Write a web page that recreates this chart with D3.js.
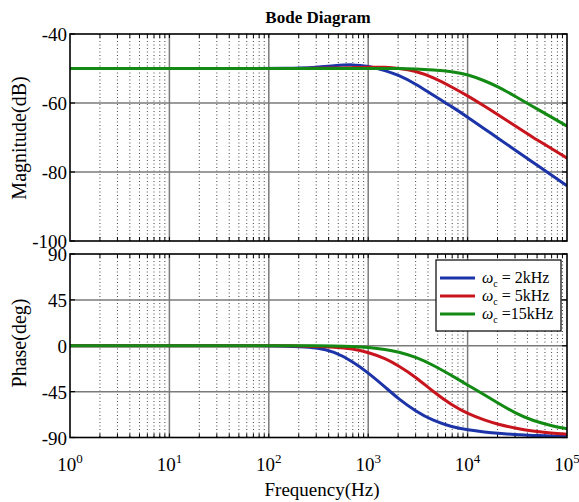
<!DOCTYPE html>
<html><head><meta charset="utf-8">
<script src="https://cdn.jsdelivr.net/npm/d3@7"></script>
<style>body{margin:0;background:#fff}svg{display:block}</style>
</head><body>
<script>
const freqs = [1, 10, 100, 150, 200, 300, 450, 700, 1000, 1500, 2000, 3000, 4500, 7000, 10000, 15000, 20000, 30000, 45000, 70000, 100000];
const magBlue  = [-50, -50, -50, -49.95, -49.9, -49.7, -49.2, -48.8, -49.3, -50.6, -51.9, -54.4, -57.8, -61.1, -64.1, -67.6, -70.1, -73.6, -77.1, -80.9, -84.0];
const magRed   = [-50, -50, -50, -50, -50, -49.95, -49.9, -49.75, -49.6, -49.6, -49.9, -50.7, -52.6, -55.4, -57.9, -61.0, -63.3, -66.6, -69.9, -73.2, -76.0];
const magGreen = [-50, -50, -50, -50, -50, -50, -50, -50, -50, -50, -50, -50.1, -50.4, -50.9, -51.7, -53.6, -55.2, -58.0, -61.0, -64.1, -66.7];
const phBlue   = [0, 0, 0, -0.5, -1, -1.8, -5.5, -15.5, -26.5, -41, -51.8, -64.2, -73.6, -79.8, -82.6, -84.7, -85.9, -87.1, -88.0, -88.5, -88.8];
const phRed    = [0, 0, 0, 0, -0.2, -0.6, -1.2, -2.8, -6.5, -12.5, -19.5, -30.5, -45, -58.5, -66.5, -73.3, -76.9, -80.8, -83.8, -85.8, -86.8];
const phGreen  = [0, 0, 0, 0, 0, 0, -0.2, -0.6, -1.5, -3.5, -6, -11, -18.9, -29.5, -38.5, -48.5, -56, -66, -73.5, -78.5, -81.5];
const seriesNames = ["2kHz", "5kHz", "15kHz"];
const colors = ["#1c34a8", "#c8141c", "#128a14"];
const magTicks = [-40, -60, -80, -100];
const phTicks = [90, 45, 0, -45, -90];
const xTickExps = [0, 1, 2, 3, 4, 5];

const W = 579, H = 502;
const svg = d3.select("body").append("svg").attr("width", W).attr("height", H);
const serif = "'Liberation Serif','Times New Roman',serif";

const x = d3.scaleLog().domain([1, 1e5]).range([70, 567]);
const yMag = d3.scaleLinear().domain([-100, -40]).range([241, 34]);
const yPh = d3.scaleLinear().domain([-90, 90]).range([437.5, 254]);

const minorX = [];
for (let e = 0; e < 5; e++) for (let k = 2; k <= 9; k++) minorX.push(k * Math.pow(10, e));
const majorX = [10, 100, 1000, 10000];

function panel(y, yticks, gridY, id, data) {
  const [y0, y1] = y.range();
  const g = svg.append("g");
  svg.append("clipPath").attr("id", id).append("rect")
    .attr("x", 70).attr("y", y1).attr("width", 497).attr("height", y0 - y1);
  g.selectAll(".mn").data(minorX).join("line")
    .attr("x1", d => x(d)).attr("x2", d => x(d)).attr("y1", y1).attr("y2", y0)
    .attr("stroke", "#444").attr("stroke-width", 1).attr("stroke-dasharray", "1,2.5");
  g.selectAll(".mj").data(majorX).join("line")
    .attr("x1", d => x(d)).attr("x2", d => x(d)).attr("y1", y1).attr("y2", y0)
    .attr("stroke", "#7a7a7a").attr("stroke-width", 1.5);
  g.selectAll(".hy").data(gridY).join("line")
    .attr("x1", 70).attr("x2", 567).attr("y1", d => y(d)).attr("y2", d => y(d))
    .attr("stroke", "#7a7a7a").attr("stroke-width", 1.5);
  const allX = minorX.concat(majorX);
  g.selectAll(".tb").data(allX).join("line")
    .attr("x1", d => x(d)).attr("x2", d => x(d)).attr("y1", y0).attr("y2", y0 - 4)
    .attr("stroke", "#000").attr("stroke-width", 1);
  g.selectAll(".tt").data(allX).join("line")
    .attr("x1", d => x(d)).attr("x2", d => x(d)).attr("y1", y1).attr("y2", y1 + 4)
    .attr("stroke", "#000").attr("stroke-width", 1);
  g.selectAll(".tl").data(yticks).join("line")
    .attr("x1", 70).attr("x2", 75).attr("y1", d => y(d)).attr("y2", d => y(d))
    .attr("stroke", "#000").attr("stroke-width", 1.2);
  g.selectAll(".tr").data(yticks).join("line")
    .attr("x1", 567).attr("x2", 562).attr("y1", d => y(d)).attr("y2", d => y(d))
    .attr("stroke", "#000").attr("stroke-width", 1.2);
  const line = d3.line().x((d, i) => x(freqs[i])).y(d => y(d)).curve(d3.curveBasis);
  g.append("g").attr("clip-path", `url(#${id})`).selectAll("path").data(data).join("path")
    .attr("d", d => line(d)).attr("fill", "none")
    .attr("stroke", (d, i) => colors[i]).attr("stroke-width", 3).attr("stroke-linejoin", "round");
  g.append("rect").attr("x", 70).attr("y", y1).attr("width", 497).attr("height", y0 - y1)
    .attr("fill", "none").attr("stroke", "#000").attr("stroke-width", 1.6);
  g.selectAll(".yl").data(yticks).join("text")
    .attr("x", 67).attr("y", d => y(d) + 7).attr("text-anchor", "end")
    .attr("font-family", serif).attr("font-size", 19).text(d => d);
}

panel(yMag, magTicks, [-60, -80], "cm", [magBlue, magRed, magGreen]);
panel(yPh, phTicks, [45, 0, -45], "cp", [phBlue, phRed, phGreen]);

const xl = svg.append("g");
xTickExps.forEach(e => {
  const t = xl.append("text").attr("x", x(Math.pow(10, e))).attr("y", 471)
    .attr("text-anchor", "middle").attr("font-family", serif).attr("font-size", 19);
  t.append("tspan").text("10");
  t.append("tspan").attr("dy", -8).attr("font-size", 13).text(e);
});

svg.append("text").attr("x", 322).attr("y", 496).attr("text-anchor", "middle")
  .attr("font-family", serif).attr("font-size", 19).text("Frequency(Hz)");
svg.append("text").attr("x", 318).attr("y", 23).attr("text-anchor", "middle")
  .attr("font-family", serif).attr("font-size", 17).attr("font-weight", "bold").text("Bode Diagram");
svg.append("text").attr("transform", "translate(26,138) rotate(-90)").attr("text-anchor", "middle")
  .attr("font-family", serif).attr("font-size", 20).text("Magnitude(dB)");
svg.append("text").attr("transform", "translate(26,343) rotate(-90)").attr("text-anchor", "middle")
  .attr("font-family", serif).attr("font-size", 20).text("Phase(deg)");

const lg = svg.append("g");
lg.append("rect").attr("x", 436).attr("y", 260).attr("width", 125).attr("height", 71)
  .attr("fill", "#fff").attr("stroke", "#000").attr("stroke-width", 1.2);
seriesNames.forEach((s, i) => {
  const yy = 278 + i * 18;
  lg.append("line").attr("x1", 440).attr("x2", 475).attr("y1", yy).attr("y2", yy)
    .attr("stroke", colors[i]).attr("stroke-width", 3);
  const t = lg.append("text").attr("x", 482).attr("y", yy + 5)
    .attr("font-family", serif).attr("font-size", 16);
  t.append("tspan").attr("font-style", "italic").text("ω");
  t.append("tspan").attr("dy", 4).attr("font-size", 10).text("c");
  t.append("tspan").attr("dy", -4).text(i === 2 ? " =15kHz" : " = " + s);
});
</script>
</body></html>
